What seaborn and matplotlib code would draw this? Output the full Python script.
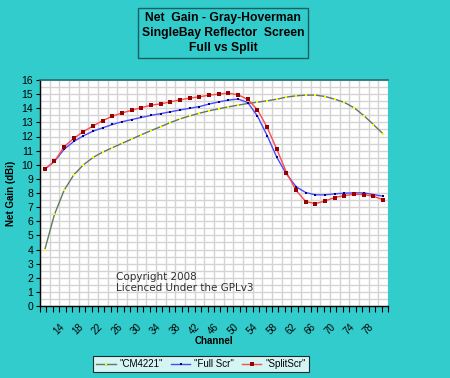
import numpy as np
import pandas as pd
import matplotlib
matplotlib.use('Agg')
import matplotlib.pyplot as plt
import seaborn as sns

# colours
BG_COLOR = '#33cccc'
GRID_COLOR = '#d4d4d4'
COLOR_CM = '#5f7a5f'
COLOR_FULL = '#4a4aff'
COLOR_SPLIT = '#ff4a4a'

# data (channels every 2)
channels = [11, 13, 15, 17, 19, 21, 23, 25, 27, 29, 31, 33, 35, 37, 39, 41, 43, 45,
            47, 49, 51, 53, 55, 57, 59, 61, 63, 65, 67, 69, 71, 73, 75, 77, 79, 81]
cm4221 = [4.0, 6.49, 8.2, 9.29, 10.0, 10.52, 10.9, 11.21, 11.52, 11.82, 12.13, 12.42,
          12.7, 12.99, 13.25, 13.46, 13.65, 13.82, 13.96, 14.1, 14.22, 14.34, 14.43, 14.53,
          14.64, 14.79, 14.88, 14.93, 14.93, 14.83, 14.64, 14.41, 14.03, 13.48, 12.84, 12.18]
full_scr = [9.69, 10.24, 11.1, 11.65, 12.05, 12.38, 12.62, 12.85, 13.05, 13.2, 13.35, 13.5,
            13.62, 13.75, 13.88, 14.0, 14.12, 14.3, 14.45, 14.58, 14.65, 14.4, 13.44, 12.06,
            10.52, 9.34, 8.44, 8.03, 7.87, 7.87, 7.94, 7.99, 8.01, 8.01, 7.89, 7.77]
split_scr = [9.69, 10.24, 11.28, 11.87, 12.35, 12.75, 13.13, 13.44, 13.67, 13.86, 14.05, 14.22,
             14.31, 14.45, 14.6, 14.72, 14.81, 14.93, 15.0, 15.07, 14.95, 14.62, 13.89, 12.65,
             11.09, 9.45, 8.18, 7.39, 7.25, 7.44, 7.68, 7.82, 7.91, 7.89, 7.77, 7.51]
xtick_labels = [14, 18, 22, 26, 30, 34, 38, 42, 46, 50, 54, 58, 62, 66, 70, 74, 78]

plt.rcParams['font.family'] = ['Liberation Sans', 'DejaVu Sans']

fig = plt.figure(figsize=(4.5, 3.78), dpi=100, facecolor=BG_COLOR)
ax = fig.add_axes([40 / 450, 1 - 306 / 378, 348 / 450, 226 / 378])
ax.set_facecolor('white')

# grid: vertical every 2 channels, horizontal every 0.5 dBi
for gx in np.arange(10, 82.1, 2):
    ax.axvline(gx, color=GRID_COLOR, lw=1.0, zorder=0)
for gy in np.arange(0, 16.1, 0.5):
    ax.axhline(gy, color=GRID_COLOR, lw=1.0, zorder=0)

sns.lineplot(x=channels, y=cm4221, ax=ax, color=COLOR_CM, lw=1.0, marker='s', markersize=1.8,
             markerfacecolor='#ffff00', markeredgewidth=0, label='"CM4221"', zorder=3)
sns.lineplot(x=channels, y=full_scr, ax=ax, color=COLOR_FULL, lw=1.0, marker='s', markersize=1.8,
             markerfacecolor='#000080', markeredgewidth=0, label='"Full Scr"', zorder=4)
sns.lineplot(x=channels, y=split_scr, ax=ax, color=COLOR_SPLIT, lw=1.0, marker='s', markersize=2.4,
             markerfacecolor='#990000', markeredgewidth=0, label='"SplitScr"', zorder=5)

ax.set_xlim(10, 82)
ax.set_ylim(0, 16)
ax.set_yticks(range(0, 17))
ax.set_xticks(xtick_labels)
ax.set_xticklabels([str(v) for v in xtick_labels], rotation=45, ha='right', va='top',
                   rotation_mode='anchor', fontsize=7)
ax.set_xticks(np.arange(10, 82.1, 4 / 3), minor=True)
ax.tick_params(axis='x', which='both', length=4, width=0.8, direction='out', pad=7)
ax.tick_params(axis='y', length=3, width=0.8, labelsize=7.5, pad=2)

for s in ['left', 'bottom']:
    ax.spines[s].set_color('black')
    ax.spines[s].set_linewidth(1.0)
ax.spines['top'].set_color('#206f6f')
ax.spines['top'].set_linewidth(1.2)
ax.spines['right'].set_visible(False)

ax.set_xlabel('Channel', fontsize=7, fontweight='bold', labelpad=0)
ax.set_ylabel('Net Gain (dBi)', fontsize=7, fontweight='bold', labelpad=4)

ax.text(0.218, 0.152, 'Copyright 2008\nLicenced Under the GPLv3', transform=ax.transAxes,
        ha='left', va='top', fontsize=7.5, color='#333333', family='DejaVu Sans',
        linespacing=1.15, zorder=6)

# title in a box
fig.text(223 / 450, 1 - 33 / 378, 'Net  Gain - Gray-Hoverman\nSingleBay Reflector  Screen\nFull vs Split',
         ha='center', va='center', fontsize=8.7, fontweight='bold', linespacing=1.3,
         bbox=dict(boxstyle='square,pad=0.35', facecolor=BG_COLOR, edgecolor='#1a5f5f', linewidth=1.0))

ax.get_legend().remove()
handles, labels = ax.get_legend_handles_labels()
leg = fig.legend(handles, labels, loc='center', bbox_to_anchor=(201 / 450, 1 - 364 / 378), ncol=3,
                 fontsize=7, frameon=True, fancybox=False, edgecolor='black', handlelength=2.0,
                 handletextpad=0.4, columnspacing=0.8, borderpad=0.3)
leg.get_frame().set_linewidth(0.8)

fig.savefig('out.png', dpi=100, facecolor=BG_COLOR)
